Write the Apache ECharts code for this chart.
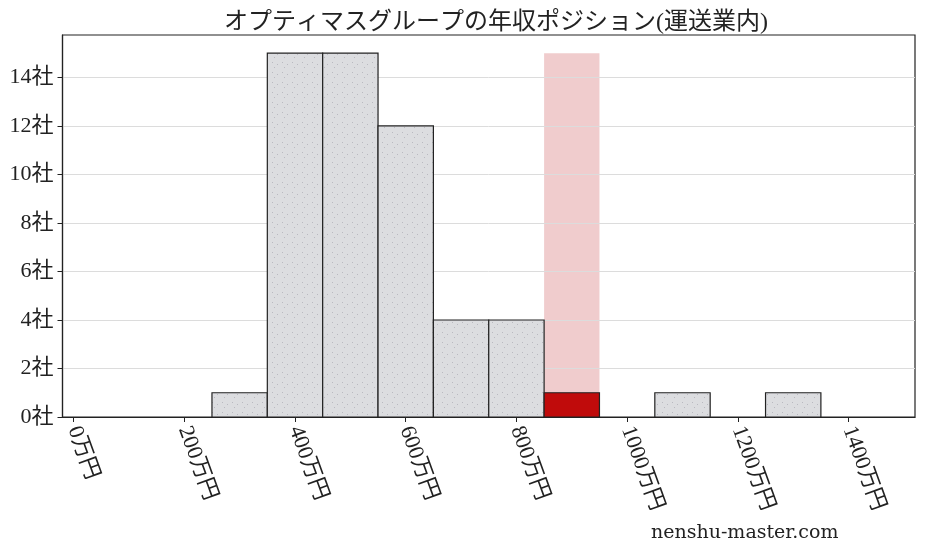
<!DOCTYPE html>
<html>
<head>
<meta charset="utf-8">
<script src="https://cdn.jsdelivr.net/npm/echarts@6/dist/echarts.min.js"></script>
<style>html,body{margin:0;padding:0;background:#fff;}#c{width:928px;height:557px;}</style>
</head>
<body>
<div id="c"></div>
<script>
const titleText = 'オプティマスグループの年収ポジション(運送業内)';
const binCenters = [300, 400, 500, 600, 700, 800, 900, 1000, 1100, 1200, 1300];
const counts = [1, 15, 15, 12, 4, 4, 1, 0, 1, 0, 1];
const highlightBin = 900;
const highlightHeight = 15;
const binWidth = 100;
const xTicks = [0, 200, 400, 600, 800, 1000, 1200, 1400];
const yTicks = [0, 2, 4, 6, 8, 10, 12, 14];
const watermark = 'nenshu-master.com';

// dotted fill pattern
const pc = document.createElement('canvas');
pc.width = 10; pc.height = 10;
const g = pc.getContext('2d');
g.fillStyle = '#dcdde0'; g.fillRect(0, 0, 10, 10);
g.fillStyle = 'rgba(150,150,160,0.5)';
g.fillRect(2, 2, 1, 1); g.fillRect(7, 4, 1, 1); g.fillRect(4, 7, 1, 1);
const grayFill = { image: pc, repeat: 'repeat' };

const barData = binCenters.map((c, i) => [c, counts[i], c === highlightBin ? 1 : 0]);

const serifFont = "'Liberation Serif', 'Noto Sans CJK JP', serif";
const chart = echarts.init(document.getElementById('c'));
chart.setOption({
  animation: false,
  title: {
    text: titleText, left: 491, top: 6, textAlign: 'center',
    textStyle: { fontFamily: serifFont, fontSize: 24, fontWeight: 'normal', color: '#222' }
  },
  grid: { left: 62.5, right: 13, top: 35, bottom: 140, show: true, borderColor: '#222', borderWidth: 1.2, backgroundColor: 'transparent' },
  xAxis: {
    type: 'value', min: -20, max: 1520, z: 1,
    axisLine: { show: true, onZero: false, lineStyle: { color: '#222', width: 1.2 } },
    axisTick: { show: true, length: 5, customValues: xTicks, lineStyle: { color: '#222' } },
    splitLine: { show: false },
    axisLabel: {
      customValues: xTicks, rotate: -70, margin: 10,
      formatter: v => v + '万円',
      fontFamily: serifFont, fontSize: 22, color: '#222'
    }
  },
  yAxis: {
    type: 'value', min: 0, max: 15.75, z: 1,
    axisLine: { show: true, onZero: false, lineStyle: { color: '#222', width: 1.2 } },
    axisTick: { show: true, length: 5, customValues: yTicks, lineStyle: { color: '#222' } },
    splitLine: { show: true, lineStyle: { color: '#dcdcdc', width: 1 } },
    axisLabel: {
      customValues: yTicks, margin: 9,
      formatter: v => v + '社',
      fontFamily: serifFont, fontSize: 22, color: '#222'
    }
  },
  series: [
    {
      type: 'custom', z: 0, silent: true,
      data: [[highlightBin, highlightHeight]],
      renderItem(params, api) {
        const c = api.value(0), v = api.value(1);
        const p0 = api.coord([c - binWidth / 2, v]);
        const p1 = api.coord([c + binWidth / 2, 0]);
        return { type: 'rect', shape: { x: p0[0], y: p0[1], width: p1[0] - p0[0], height: p1[1] - p0[1] },
          style: { fill: '#f0cccd' } };
      }
    },
    {
      type: 'custom', z: 2, silent: true,
      data: barData,
      renderItem(params, api) {
        const c = api.value(0), v = api.value(1), hl = api.value(2);
        if (!v) return null;
        const p0 = api.coord([c - binWidth / 2, v]);
        const p1 = api.coord([c + binWidth / 2, 0]);
        return { type: 'rect', shape: { x: p0[0], y: p0[1], width: p1[0] - p0[0], height: p1[1] - p0[1] },
          style: { fill: hl ? '#c00b0b' : grayFill, stroke: '#222', lineWidth: 1.2 } };
      }
    }
  ],
  graphic: [{
    type: 'text', left: 651, top: 524,
    style: { text: watermark, font: "19px 'DejaVu Serif', serif", fill: '#222' }
  }]
});
</script>
</body>
</html>
